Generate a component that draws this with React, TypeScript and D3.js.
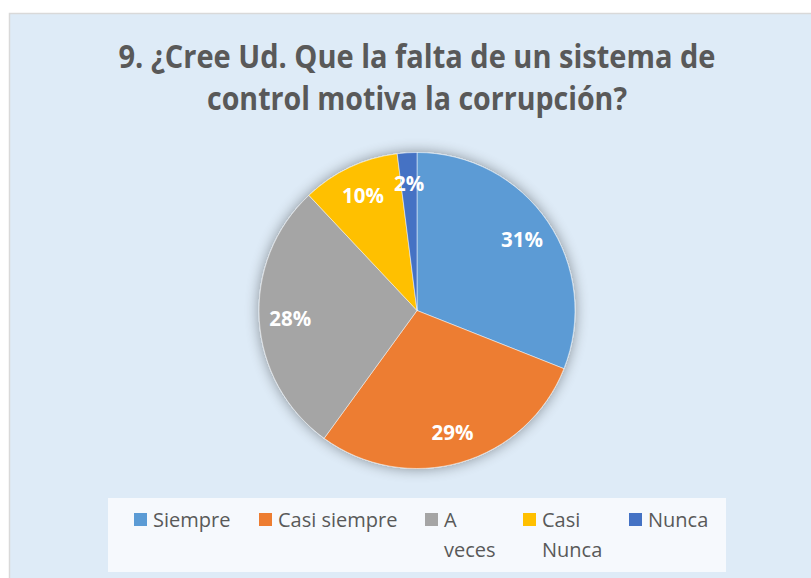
import React from "react";
import * as d3 from "d3";

const categories = ["Siempre", "Casi siempre", "A veces", "Casi Nunca", "Nunca"];
const values = [31, 29, 28, 10, 2];
const colors = ["#5b9bd5", "#ed7d31", "#a5a5a5", "#ffc000", "#4472c4"];
const legendLines = [["Siempre"], ["Casi siempre"], ["A", "veces"], ["Casi", "Nunca"], ["Nunca"]];
const legendX = [134, 259, 425, 523, 629];
const titleLines = ["9. ¿Cree Ud. Que la falta de un sistema de", "control motiva la corrupción?"];

export default function App() {
  const W = 811, H = 578;
  const cx = 417, cy = 310.5, R = 158;
  const pie = d3.pie<number>().sort(null).value((d) => d)(values);
  const arc = d3.arc<d3.PieArcDatum<number>>().innerRadius(0).outerRadius(R);
  const labelArc = d3.arc<d3.PieArcDatum<number>>().innerRadius(127).outerRadius(127);
  const total = d3.sum(values);
  const font = "'Open Sans', 'Noto Sans', sans-serif";
  return (
    <svg width={W} height={H} style={{ position: "absolute", left: 0, top: 0 }}>
      <defs>
        <filter id="sh" x="-30%" y="-30%" width="160%" height="160%">
          <feGaussianBlur in="SourceAlpha" stdDeviation="7" />
          <feComponentTransfer>
            <feFuncA type="linear" slope="0.4" />
          </feComponentTransfer>
          <feMerge>
            <feMergeNode />
            <feMergeNode in="SourceGraphic" />
          </feMerge>
        </filter>
      </defs>
      <rect x={0} y={0} width={W} height={H} fill="#ffffff" />
      <rect x={9.5} y={13.5} width={W + 10} height={H + 10} fill="#deebf7" stroke="#d9d9d9" strokeWidth={1.5} />
      {titleLines.map((t, i) => (
        <text key={i} x={417} y={68 + i * 42} textAnchor="middle" fontFamily={font} fontWeight="bold"
          fontSize={32} fill="#595959" textLength={i === 0 ? 597 : 420} lengthAdjust="spacingAndGlyphs">{t}</text>
      ))}
      <g transform={`translate(${cx},${cy})`}>
        <g filter="url(#sh)">
          {pie.map((p, i) => (
            <path key={i} d={arc(p) || ""} fill={colors[i]} stroke="#ffffff" strokeWidth={0.5} />
          ))}
        </g>
        {pie.map((p, i) => {
          const [lx, ly] = labelArc.centroid(p);
          return (
            <text key={i} x={lx} y={ly} dy="0.36em" textAnchor="middle" fontFamily={font} fontWeight="bold"
              fontSize={20.5} fill="#ffffff">{Math.round((values[i] / total) * 100)}%</text>
          );
        })}
      </g>
      <rect x={108} y={498} width={618} height={74} fill="#f6f9fd" />
      {categories.map((c, i) => (
        <g key={c}>
          <rect x={legendX[i]} y={513} width={13} height={13} fill={colors[i]} />
          {legendLines[i].map((l, j) => (
            <text key={j} x={legendX[i] + 19} y={527 + j * 30} fontFamily={font} fontSize={20} fill="#595959">{l}</text>
          ))}
        </g>
      ))}
    </svg>
  );
}
